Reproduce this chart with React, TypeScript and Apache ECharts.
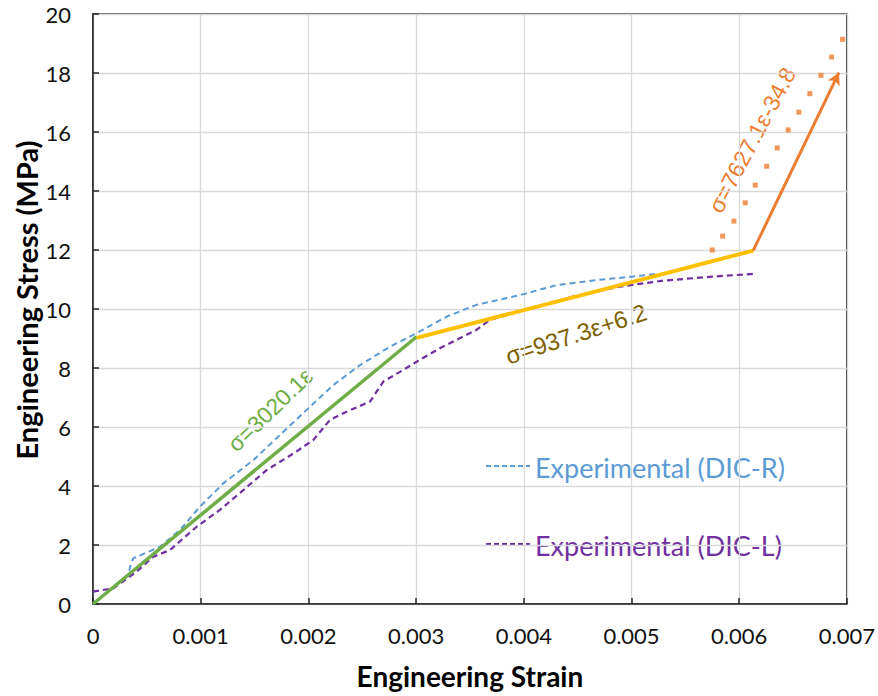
import React, { useEffect, useRef } from "react";
import * as echarts from "echarts";

const xTicks = { min: 0, max: 0.007, interval: 0.001 };
const yTicks = { min: 0, max: 20, interval: 2 };

const dicR: [number, number][] = [
  [0, 0], [0.00033, 1.0], [0.00035, 1.35], [0.000375, 1.55], [0.000622, 1.94], [0.000808, 2.51],
  [0.000993, 3.3], [0.00121, 4.09], [0.00149, 4.88], [0.001736, 5.73], [0.001984, 6.58],
  [0.002231, 7.42], [0.002479, 8.1], [0.002757, 8.72], [0.003005, 9.18], [0.003283, 9.74],
  [0.00356, 10.14], [0.003964, 10.47], [0.004305, 10.81], [0.004676, 10.98], [0.005016, 11.1],
  [0.00523, 11.19],
];

const dicL: [number, number][] = [
  [0, 0.42], [0.000189, 0.53], [0.000405, 1.1], [0.00056, 1.6], [0.000715, 1.83], [0.000963, 2.62],
  [0.001179, 3.19], [0.001396, 3.86], [0.001612, 4.54], [0.00186, 5.1], [0.002046, 5.56],
  [0.0022, 6.24], [0.002355, 6.52], [0.002572, 6.86], [0.002696, 7.54], [0.00285, 7.87],
  [0.003005, 8.21], [0.00322, 8.67], [0.00356, 9.29], [0.003685, 9.63], [0.004057, 10.02],
  [0.004457, 10.42], [0.004892, 10.76], [0.005295, 10.96], [0.005759, 11.1], [0.006131, 11.19],
];

const fitElastic: [number, number][] = [[0, 0], [0.003005, 9.06]];
const fitPlastic: [number, number][] = [[0.003005, 9.02], [0.00613, 11.98]];
const arrowStart: [number, number] = [0.00613, 11.98];
const arrowEnd: [number, number] = [0.006926, 18.01];

const orangeDots: [number, number][] = [
  [0.00575, 12.0], [0.005846, 12.47], [0.005951, 12.98], [0.006056, 13.6], [0.006149, 14.2],
  [0.006255, 14.84], [0.006353, 15.46], [0.006455, 16.07], [0.006554, 16.67], [0.006656, 17.3],
  [0.006759, 17.92], [0.006858, 18.54], [0.00696, 19.14],
];

const FONT = "Lato, 'Noto Sans', sans-serif";
const EQ_FONT = "'Liberation Sans', Arial, sans-serif";

export default function App() {
  const ref = useRef<HTMLDivElement>(null);
  useEffect(() => {
    if (!ref.current) return;
    const chart = echarts.init(ref.current, null, { renderer: "svg" });
    chart.setOption({
      animation: false,
      backgroundColor: "#fff",
      grid: { left: 93, top: 14, right: 31, bottom: 92, show: true, borderColor: "#262626", borderWidth: 1.5 },
      xAxis: {
        type: "value",
        ...xTicks,
        name: "Engineering Strain",
        nameLocation: "middle",
        nameGap: 58,
        nameTextStyle: { fontFamily: FONT, fontSize: 28, fontWeight: "bold", color: "#000" },
        axisLine: { lineStyle: { color: "#262626", width: 1.5 } },
        axisTick: { inside: true, length: 6, lineStyle: { color: "#262626", width: 1.5 } },
        axisLabel: { fontFamily: FONT, fontSize: 22, color: "#111", margin: 20 },
        splitLine: { lineStyle: { color: "#d9d9d9", width: 1.3 } },
      },
      yAxis: {
        type: "value",
        ...yTicks,
        axisLine: { lineStyle: { color: "#262626", width: 1.5 } },
        axisTick: { inside: true, length: 6, lineStyle: { color: "#262626", width: 1.5 } },
        axisLabel: { fontFamily: FONT, fontSize: 22, color: "#111", margin: 22 },
        splitLine: { lineStyle: { color: "#d9d9d9", width: 1.3 } },
      },
      series: [
        {
          name: "Experimental (DIC-R)", type: "line", data: dicR, showSymbol: false, z: 2,
          lineStyle: { color: "#5b9bd5", width: 2, type: [6, 4] },
        },
        {
          name: "Experimental (DIC-L)", type: "line", data: dicL, showSymbol: false, z: 2,
          lineStyle: { color: "#7030a0", width: 2.2, type: [6, 4] },
        },
        {
          name: "Elastic", type: "line", data: fitElastic, showSymbol: false, z: 4,
          lineStyle: { color: "#70ad47", width: 3.5 },
        },
        {
          name: "Plastic", type: "line", data: fitPlastic, showSymbol: false, z: 4,
          lineStyle: { color: "#ffc000", width: 4 },
          markLine: {
            silent: true, symbol: ["none", "arrow"], symbolSize: [10, 12],
            label: { show: false },
            lineStyle: { color: "#ed7d31", width: 3, type: "solid" },
            data: [[{ coord: arrowStart }, { coord: arrowEnd }]],
          },
        },
        {
          name: "Hardening", type: "scatter", data: orangeDots, symbol: "rect", symbolSize: 5, z: 3,
          itemStyle: { color: "#ed7d31" },
        },
      ],
      graphic: [
        { type: "text", x: 26, y: 300, rotation: Math.PI / 2, style: { text: "Engineering Stress (MPa)", fill: "#000", font: `bold 29px ${FONT}`, align: "center", verticalAlign: "middle" } },
        { type: "line", shape: { x1: 486, y1: 466, x2: 530, y2: 466 }, style: { stroke: "#5b9bd5", lineWidth: 2, lineDash: [5, 3] } },
        { type: "text", x: 535, y: 467, style: { text: "Experimental (DIC-R)", fill: "#5b9bd5", font: `27px ${FONT}`, verticalAlign: "middle" } },
        { type: "line", shape: { x1: 486, y1: 544, x2: 530, y2: 544 }, style: { stroke: "#7030a0", lineWidth: 2, lineDash: [5, 3] } },
        { type: "text", x: 535, y: 545, style: { text: "Experimental (DIC-L)", fill: "#7030a0", font: `27px ${FONT}`, verticalAlign: "middle" } },
        { type: "text", x: 270, y: 410, rotation: (44 * Math.PI) / 180, style: { text: "σ=3020.1ε", fill: "#70ad47", font: `23px ${EQ_FONT}`, align: "center", verticalAlign: "middle" } },
        { type: "text", x: 576, y: 334, rotation: (18 * Math.PI) / 180, style: { text: "σ=937.3ε+6.2", fill: "#7f6000", font: `24px ${EQ_FONT}`, align: "center", verticalAlign: "middle" } },
        { type: "text", x: 752, y: 140, rotation: (62 * Math.PI) / 180, style: { text: "σ=7627.1ε-34.8", fill: "#ed7d31", font: `23px ${EQ_FONT}`, align: "center", verticalAlign: "middle" } },
      ],
    });
    return () => chart.dispose();
  }, []);
  return <div ref={ref} style={{ width: 878, height: 696, position: "absolute", left: 0, top: 0 }} />;
}
